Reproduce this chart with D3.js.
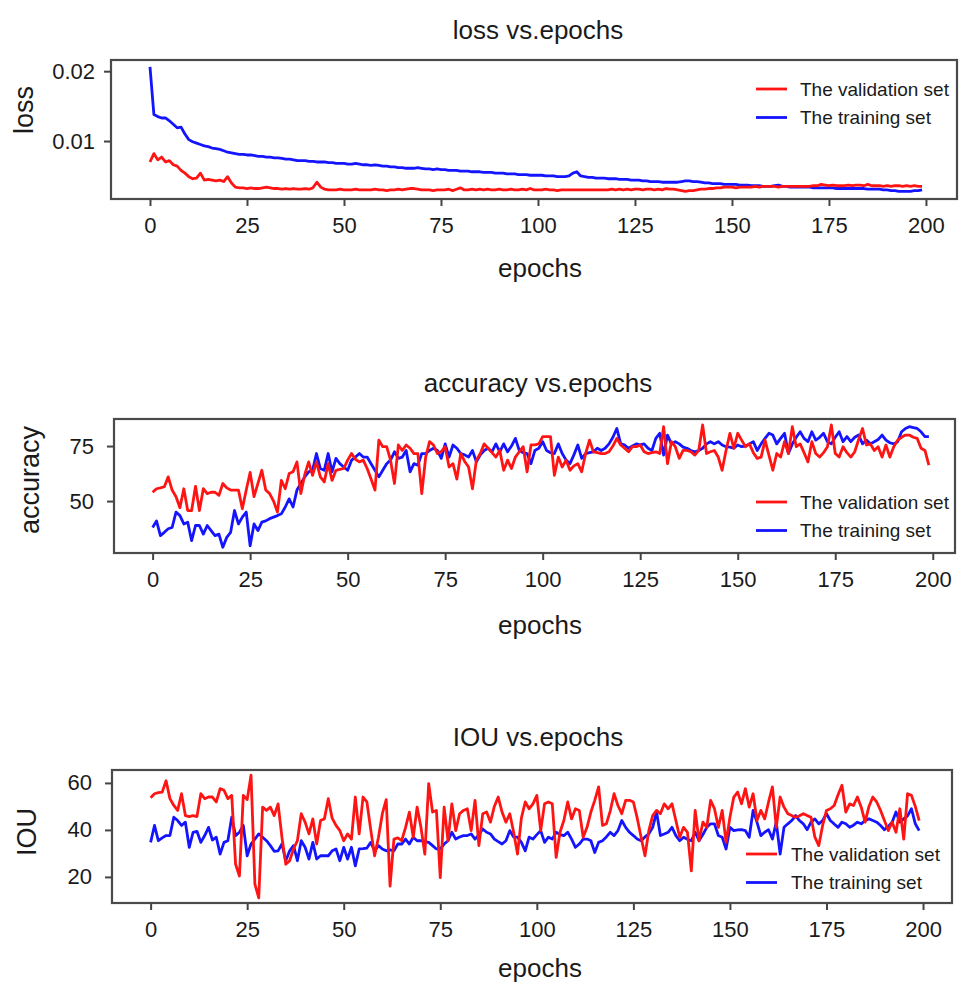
<!DOCTYPE html>
<html>
<head>
<meta charset="utf-8">
<script src="https://cdn.jsdelivr.net/npm/d3@7"></script>
<style>
  body { margin: 0; background: #fff; }
  svg { display: block; }
  text { font-family: 'Liberation Sans', Arial, sans-serif; fill: #1a1a1a; }
</style>
</head>
<body>
<svg id="chart" width="959" height="985"></svg>
<script>
// epochs 0..199, one value per epoch
const epochTicks = [0, 25, 50, 75, 100, 125, 150, 175, 200];
const seriesNames = ['The validation set', 'The training set'];

const lossVal = [
  .0070,.0082,.0073,.0077,.0070,.0072,.0066,.0064,.0058,.0054,
  .0049,.0046,.0047,.0054,.0044,.0045,.0044,.0043,.0044,.0042,
  .0049,.0040,.0034,.0033,.0033,.0032,.0033,.0032,.0032,.0033,
  .0034,.0033,.0032,.0032,.0031,.0032,.0031,.0032,.0031,.0031,
  .0032,.0031,.0033,.0041,.0034,.0031,.0030,.0030,.0030,.0031,
  .0030,.0030,.0030,.0031,.0030,.0030,.0030,.0030,.0031,.0030,
  .0030,.0029,.0030,.0030,.0031,.0030,.0031,.0032,.0032,.0031,
  .0030,.0030,.0030,.0029,.0030,.0030,.0030,.0031,.0029,.0031,
  .0033,.0030,.0030,.0031,.0030,.0031,.0030,.0031,.0030,.0030,
  .0031,.0030,.0030,.0031,.0030,.0030,.0031,.0030,.0032,.0030,
  .0030,.0030,.0031,.0030,.0030,.0029,.0030,.0030,.0030,.0030,
  .0030,.0030,.0030,.0030,.0030,.0030,.0030,.0030,.0030,.0031,
  .0030,.0031,.0030,.0031,.0030,.0031,.0031,.0030,.0031,.0031,
  .0030,.0031,.0030,.0032,.0031,.0031,.0030,.0029,.0028,.0029,
  .0029,.0030,.0031,.0031,.0032,.0032,.0033,.0033,.0034,.0034,
  .0034,.0033,.0034,.0034,.0034,.0034,.0035,.0034,.0035,.0035,
  .0035,.0035,.0034,.0035,.0035,.0035,.0035,.0035,.0035,.0035,
  .0035,.0036,.0036,.0038,.0037,.0036,.0037,.0036,.0036,.0036,
  .0037,.0036,.0037,.0037,.0036,.0038,.0036,.0036,.0036,.0035,
  .0036,.0035,.0036,.0036,.0035,.0036,.0035,.0036,.0035,.0035
];
const lossTrain = [
  .0206,.0138,.0135,.0133,.0133,.0129,.0124,.0119,.0120,.0110,
  .0102,.0099,.0097,.0095,.0093,.0092,.0090,.0089,.0088,.0086,
  .0084,.0083,.0082,.0081,.0081,.0080,.0080,.0079,.0078,.0078,
  .0077,.0077,.0076,.0076,.0075,.0074,.0074,.0073,.0072,.0072,
  .0072,.0071,.0071,.0070,.0070,.0070,.0069,.0069,.0068,.0068,
  .0068,.0067,.0067,.0068,.0067,.0066,.0066,.0065,.0066,.0065,
  .0064,.0064,.0063,.0063,.0062,.0062,.0061,.0061,.0061,.0062,
  .0061,.0060,.0060,.0059,.0060,.0059,.0059,.0058,.0058,.0058,
  .0057,.0057,.0057,.0056,.0056,.0056,.0055,.0055,.0055,.0054,
  .0054,.0054,.0053,.0053,.0053,.0052,.0052,.0052,.0051,.0051,
  .0051,.0051,.0050,.0050,.0050,.0049,.0049,.0049,.0050,.0054,
  .0056,.0050,.0049,.0048,.0048,.0047,.0047,.0047,.0046,.0046,
  .0046,.0045,.0045,.0045,.0044,.0044,.0044,.0043,.0043,.0042,
  .0042,.0042,.0041,.0041,.0041,.0041,.0041,.0042,.0043,.0043,
  .0042,.0042,.0041,.0040,.0040,.0039,.0039,.0039,.0038,.0038,
  .0038,.0038,.0037,.0037,.0037,.0036,.0036,.0036,.0035,.0035,
  .0035,.0036,.0037,.0035,.0035,.0034,.0034,.0034,.0034,.0034,
  .0034,.0033,.0033,.0033,.0033,.0033,.0033,.0032,.0032,.0032,
  .0032,.0032,.0032,.0032,.0032,.0031,.0031,.0031,.0031,.0030,
  .0030,.0029,.0029,.0028,.0028,.0028,.0028,.0029,.0029,.0030
];
const lossTicks = [0.01, 0.02];

const accVal = [
  54,55.6,56,56.5,61,55,52,47,55.6,45.7,
  45.7,56.7,45.7,55.6,53.4,54,54,52.6,58,56,
  55,55,55,46.5,55,63,52,58,64,55,
  53.4,50,45,59.4,55.6,62.5,63.3,67.8,53.4,62,
  67.8,61.7,67.8,61,58.7,67,59.4,64,64.4,64.8,
  68.6,71.6,69,67.8,68.6,64.8,60,55,77.7,74.7,
  74.7,68.6,58,75.5,73,75.5,74,71.6,71.6,53.4,
  70,77,75.5,71.6,72.5,74.7,65.5,67,60,71.6,
  68,65.5,55.6,68.6,71.6,76,74,72,70,73,
  64,68.6,64.8,70,72.4,74.7,63.3,75.5,75.5,76,
  79.3,79.3,79.3,61.7,70,65.5,68.6,64,66,67,
  63.3,71.6,77.7,72.4,72,71.6,71.6,72.4,75,78.5,
  75.5,74,72.4,74.7,74.7,75.5,72.4,71.6,72,72.4,
  71.6,83.8,67,77,74.7,69.4,73,73,72.4,70.9,
  73,84.6,71.6,72.4,73,70,64,73,80.8,74,
  80.8,77.7,74.7,76,72,69.4,70,77.7,70.9,64,
  71.6,70,77,71.6,83.8,74.7,76,72,67.8,77,
  71.6,70,72,74.7,84.6,71.6,70,74.7,72,70,
  72.4,78,83,75.5,76,73,74.7,70,75.5,70,
  74.7,77.7,79,80,80,79,78.5,74,73,66.3
];
const accTrain = [
  38,41,34.3,35.8,37.4,38,45,43.4,39.6,40.4,
  32,38.9,38.9,35,38.9,36.6,34.3,35,29,33.5,
  35.8,45.7,39.6,42.7,45,29.7,39.6,36.6,40.4,41,
  42,42.7,43.4,44.2,47.3,51,47.3,55,58,61,
  63.3,64,71.6,64.8,64,71.6,63.3,69.4,67,65.5,
  64,68.6,70,71.6,70,70,67,64,61,64,
  67,68.6,72.4,69.4,70,73,63.3,67,66.3,71.6,
  71.6,73,74,73,69.4,76,70,75.5,74,71.6,
  71,70,73,67.8,71,73,74,72.4,76,72.4,
  76,72.4,75,78.5,73,72,71.6,67,73,74,
  77,73,72,71.6,76,71.6,68.6,67,71,75.5,
  69.4,71.6,72,72.4,74,73,74,76,79,83,
  76,75.5,74,75,76,75.5,76,74,73,78.5,
  80.8,70.9,80,76,77,76,74.5,74,73,72.4,
  73,74,76,77,76,77,75.5,74.7,74.5,74,
  75.5,74.7,75,76,77,73,76,78.5,80.8,80,
  76,78.5,80.8,71.6,76,79,81.5,78.5,77,81.5,
  77.7,79,80.8,77,76,79,81.5,77,79.3,77,
  79,80,76,77.7,76,77,78,80,77.7,76.5,
  76,77,81.5,83,83.8,83.4,83,81.5,79.3,79.3
];
const accTicks = [50, 75];

const iouVal = [
  53.7,55.4,55.9,56.1,60.9,53.3,50.4,48.3,55.4,46.1,
  45.7,46.1,45.7,55.4,53.3,54,54,51.9,57.6,56.9,
  53.3,54.7,25.4,20.4,54.7,52.9,63.3,16.9,11.1,49.7,
  48.3,49.7,46.1,51.1,36.9,25.4,26.9,31.9,35.4,46.9,
  43.3,38.3,44.7,34,44,44.7,53.3,45,41.9,39.7,
  35.4,38.3,36.1,54,38.3,54,51.9,40,29,36.9,
  46.9,52.9,16.1,36.1,36.6,35.4,41,47.6,36.9,49.7,
  41.1,29.7,59.7,47.6,48.3,19.7,49.7,35.4,51.1,39.7,
  46.9,48.3,49,39.7,52.6,33.3,46.9,47.6,43.3,50,
  54,47.6,43.3,46.9,39,29.7,45,51.9,49,51.1,
  54.7,39.7,51.1,51.9,51.1,28.3,39,44,51.9,44.7,
  49,48.3,36.9,41.1,47.6,52.6,58.3,41.9,42.6,48,
  55.4,50.4,46.9,52.6,52.6,51.9,45,36.9,29,39.7,
  46.1,48.3,46.9,51.1,49,51.1,44,36.9,41.1,39,
  22.6,48.3,35.4,43.3,41.1,52.6,49,41.1,48.3,34.7,
  45.4,54,56.1,51.1,57.6,49.7,55.4,44,48.3,44.7,
  51.9,58.3,41.1,54,49.7,46.9,46.1,45.4,46,46.9,
  46.1,45.4,36.9,33.3,41.9,48.3,49,50.4,55,59,
  47.6,51.1,50.4,54,49.7,43.3,50,54,51.9,48.3,
  44,39.7,43.3,39,49,36.1,55.4,54.7,50,44
];
const iouTrain = [
  34.7,41.9,35.4,36.6,37.6,37.6,45.4,44,41.9,43.3,
  32.6,39,39.4,34.7,37.6,41.1,35.7,36.9,29.7,34.7,
  35.4,45.4,37.6,39,41.9,29,34,36.1,38.3,36.9,
  35.4,33.3,30.9,31.1,34,26.9,31.1,33.3,26.9,35.4,
  32.6,27.6,34.7,27.6,29,29,29,31.1,31.9,26.9,
  32.6,27.6,32.6,24.7,31.9,32,32.3,34.7,31.1,33.3,
  31.9,31.1,31.5,31.1,34,34,36.1,34,36.9,35.4,
  35.4,35,34.7,33.3,31.9,31.9,34,35.4,39,36.1,
  37,37.6,37.6,38.3,36.1,38,40.4,39,38.3,36.1,
  35,34,35.4,39.7,37,36.9,34.7,31.1,36.9,36.1,
  38,39.7,34.7,36.9,36.1,39,38,37.6,39,36.1,
  32.6,34,36.1,36.1,35.4,30.4,34.7,35.4,37,39,
  37.6,39.7,44,41.1,39,37.6,36.1,35.4,37,38.3,
  41.1,47.6,37.6,38.3,39,41.1,37.6,35.4,36.9,36,
  35.4,39,35.4,38,41.1,42.6,42.6,37.6,36.9,31.9,
  41.1,39.7,40,40.1,39.7,36.9,48.3,43.3,37.6,39,
  40.1,36.1,43.3,29.7,41.1,42.6,44,46.1,44,42.6,
  40.1,43.3,44.7,42.6,44,46.9,44,42.5,41.1,43.3,
  42.6,41.1,42,43.3,42.6,44,44.7,44,43.3,41.9,
  40.1,41.5,43.3,47.6,43.3,44.7,46,49,42.6,39.7
];
const iouTicks = [20, 40, 60];

const colors = ['#ff1414', '#1414ff']; // validation, training

const panels = [
  { title: 'loss vs.epochs', ylab: 'loss', series: [lossVal, lossTrain], yTicks: lossTicks,
    fmt: d3.format('.2f'), yDomain: [0.0017, 0.0216], xDomain: [-10.05, 208],
    box: { l: 111, r: 957, t: 60, b: 199 }, titleY: 30, xlabY: 268, ylabX: 24, ylabY: 110,
    yPad: 9, leg: { x1: 756, x2: 787, tx: 800, y: 89 } },
  { title: 'accuracy vs.epochs', ylab: 'accuracy', series: [accVal, accTrain], yTicks: accTicks,
    fmt: d3.format('d'), yDomain: [26.4, 87.3], xDomain: [-9.9, 205.7],
    box: { l: 114, r: 955, t: 419, b: 553 }, titleY: 383, xlabY: 625, ylabX: 30, ylabY: 480,
    yPad: 13, leg: { x1: 756, x2: 787, tx: 800, y: 502 } },
  { title: 'IOU vs.epochs', ylab: 'IOU', series: [iouVal, iouTrain], yTicks: iouTicks,
    fmt: d3.format('d'), yDomain: [8.9, 65.5], xDomain: [-10, 207.5],
    box: { l: 112, r: 952, t: 770, b: 903 }, titleY: 737, xlabY: 968, ylabX: 27, ylabY: 832,
    yPad: 13, leg: { x1: 746, x2: 777, tx: 791, y: 854 } },
];

const svg = d3.select('#chart');

panels.forEach((p) => {
  const b = p.box;
  const x = d3.scaleLinear().domain(p.xDomain).range([b.l, b.r]);
  const y = d3.scaleLinear().domain(p.yDomain).range([b.b, b.t]);
  const g = svg.append('g');

  const line = d3.line().x((d, i) => x(i)).y((d) => y(d));
  // training underneath, validation on top
  [1, 0].forEach((k) => {
    g.append('path')
      .datum(p.series[k])
      .attr('d', line)
      .attr('fill', 'none')
      .attr('stroke', colors[k])
      .attr('stroke-width', 2.8)
      .attr('stroke-linejoin', 'round');
  });

  g.append('rect')
    .attr('x', b.l).attr('y', b.t)
    .attr('width', b.r - b.l).attr('height', b.b - b.t)
    .attr('fill', 'none')
    .attr('stroke', '#4a4a4a')
    .attr('stroke-width', 2.2);

  const xAxis = g.append('g')
    .attr('transform', `translate(0,${b.b})`)
    .call(d3.axisBottom(x).tickValues(epochTicks).tickSize(7).tickSizeOuter(0).tickPadding(11));
  const yAxis = g.append('g')
    .attr('transform', `translate(${b.l},0)`)
    .call(d3.axisLeft(y).tickValues(p.yTicks).tickFormat(p.fmt).tickSize(7).tickSizeOuter(0).tickPadding(p.yPad));
  [xAxis, yAxis].forEach((a) => {
    a.select('.domain').remove();
    a.selectAll('line').attr('stroke', '#444').attr('stroke-width', 2);
    a.selectAll('text').attr('font-size', '22px').style('fill', '#1a1a1a')
      .attr('font-family', "'Liberation Sans', Arial, sans-serif");
  });

  // title
  g.append('text')
    .attr('x', 538).attr('y', p.titleY)
    .attr('dy', '0.35em')
    .attr('text-anchor', 'middle')
    .attr('font-size', '26px')
    .text(p.title);
  // x label
  g.append('text')
    .attr('x', 540).attr('y', p.xlabY)
    .attr('dy', '0.35em')
    .attr('text-anchor', 'middle')
    .attr('font-size', '26px')
    .text('epochs');
  // y label
  g.append('text')
    .attr('transform', `translate(${p.ylabX},${p.ylabY}) rotate(-90)`)
    .attr('dy', '0.35em')
    .attr('text-anchor', 'middle')
    .attr('font-size', '27px')
    .text(p.ylab);

  // legend, no background box
  const l = p.leg;
  seriesNames.forEach((name, k) => {
    const ly = l.y + k * 28.5;
    g.append('line')
      .attr('x1', l.x1).attr('x2', l.x2)
      .attr('y1', ly).attr('y2', ly)
      .attr('stroke', colors[k])
      .attr('stroke-width', 2.8);
    g.append('text')
      .attr('x', l.tx).attr('y', ly)
      .attr('dy', '0.35em')
      .attr('font-size', '19px')
      .text(name);
  });
});
</script>
</body>
</html>
